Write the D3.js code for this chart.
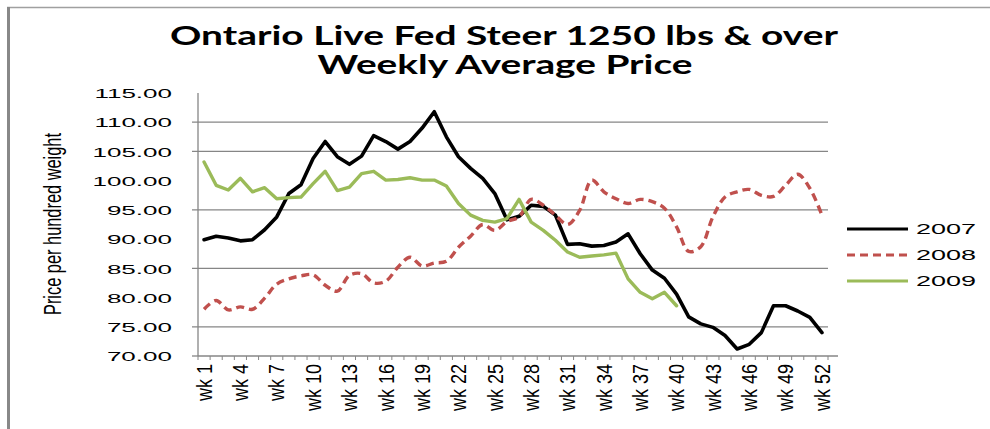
<!DOCTYPE html>
<html>
<head>
<meta charset="utf-8">
<script src="https://cdn.jsdelivr.net/npm/d3@7/dist/d3.min.js"></script>
<style>
  html, body { margin: 0; padding: 0; background: #fff; }
  svg { display: block; }
</style>
</head>
<body>
<svg id="chart" width="990" height="429"></svg>
<script>
// ---- data ----
const weeks = d3.range(1, 53).map(d => "wk " + d);
const tickLabels = ["wk 1","wk 4","wk 7","wk 10","wk 13","wk 16","wk 19","wk 22","wk 25","wk 28","wk 31","wk 34","wk 37","wk 40","wk 43","wk 46","wk 49","wk 52"];
const yTickValues = [70, 75, 80, 85, 90, 95, 100, 105, 110, 115];
const gridValues = [75, 85, 95, 105, 110];
const seriesNames = ["2007", "2008", "2009"];
const values2007 = [89.9, 90.5, 90.2, 89.7, 89.9, 91.6, 93.8, 97.8, 99.3, 103.8,
  106.7, 104.1, 102.8, 104.2, 107.7, 106.7, 105.4, 106.7, 109.0, 111.8,
  107.5, 104.1, 102.1, 100.4, 97.8, 93.3, 93.9, 95.8, 95.6, 94.1,
  89.1, 89.2, 88.8, 88.9, 89.5, 90.9, 87.5, 84.7, 83.3, 80.6,
  76.7, 75.5, 74.9, 73.5, 71.2, 72.0, 74.0, 78.6, 78.6, 77.7,
  76.6, 74.0];
const values2008 = [78.0, 79.5, 77.9, 78.4, 78.0, 79.9, 82.3, 83.2, 83.7, 83.9,
  82.1, 81.1, 83.8, 84.1, 82.5, 82.8, 85.2, 86.9, 85.4, 85.9,
  86.2, 88.6, 90.5, 92.5, 91.5, 93.0, 93.8, 96.8, 95.8, 94.1,
  92.5, 94.9, 100.1, 98.1, 96.9, 96.1, 96.8, 96.4, 95.3, 92.1,
  87.9, 88.7, 93.8, 97.2, 98.1, 98.5, 97.5, 97.3, 99.2, 101.1,
  98.7, 94.1];
const values2009 = [103.2, 99.2, 98.4, 100.4, 98.1, 98.8, 96.9, 97.1, 97.2, 99.5,
  101.6, 98.3, 98.9, 101.2, 101.6, 100.1, 100.2, 100.5, 100.1, 100.1,
  99.1, 96.1, 94.1, 93.2, 92.9, 93.5, 96.8, 92.9, 91.5, 89.8,
  87.8, 86.9, 87.1, 87.3, 87.6, 83.2, 80.9, 79.8, 80.9, 78.6];

const series = [
  { name: seriesNames[0], values: values2007, color: "#000000", dash: null, curve: d3.curveLinear, width: 3.6 },
  { name: seriesNames[1], values: values2008, color: "#C0504D", dash: "8,5", curve: d3.curveCatmullRom.alpha(0.5), width: 3.4 },
  { name: seriesNames[2], values: values2009, color: "#9BBB59", dash: null, curve: d3.curveLinear, width: 3.4 }
];

// ---- layout ----
const svg = d3.select("#chart");
const L = 198, R = 828, T = 93, B = 356;
const x = d3.scaleBand().domain(weeks).range([L, R]).padding(0);
const y = d3.scaleLinear().domain([70, 115]).range([B, T]);

function stretch(sel, factor) {
  sel.each(function () {
    const w = this.getComputedTextLength();
    d3.select(this).attr("textLength", w * factor).attr("lengthAdjust", "spacingAndGlyphs");
  });
}

// frame
svg.append("line").attr("x1", 7).attr("x2", 990).attr("y1", 7.5).attr("y2", 7.5)
  .attr("stroke", "#a0a0a0").attr("stroke-width", 1.5);
svg.append("line").attr("x1", 8.5).attr("x2", 8.5).attr("y1", 7).attr("y2", 429)
  .attr("stroke", "#888").attr("stroke-width", 3);

// title
const title = svg.append("g").attr("font-family", "Lato, 'Open Sans', sans-serif")
  .attr("font-weight", "bold").attr("font-size", 26).attr("fill", "#000").attr("text-anchor", "middle");
title.append("text").attr("x", 504).attr("y", 45).text("Ontario Live Fed Steer 1250 lbs & over")
  .attr("textLength", 668).attr("lengthAdjust", "spacingAndGlyphs");
title.append("text").attr("x", 505).attr("y", 74).text("Weekly Average Price")
  .attr("textLength", 375).attr("lengthAdjust", "spacingAndGlyphs");

// gridlines
svg.append("g").selectAll("line").data(gridValues).join("line")
  .attr("x1", L - 6).attr("x2", R).attr("y1", d => y(d)).attr("y2", d => y(d))
  .attr("stroke", "#868686").attr("stroke-width", 1.3);

// y axis
const yAxis = svg.append("g").attr("transform", `translate(${L},0)`)
  .call(d3.axisLeft(y).tickValues(yTickValues).tickSize(0).tickPadding(26).tickFormat(d3.format(".2f")));
yAxis.select(".domain").remove();
yAxis.selectAll("text").attr("font-family", "'Liberation Sans', Arial, sans-serif")
  .attr("font-size", 13).attr("fill", "#000").attr("dy", "0.36em");
stretch(yAxis.selectAll("text"), 2.0);
svg.append("line").attr("x1", L).attr("x2", L).attr("y1", T).attr("y2", B)
  .attr("stroke", "#868686").attr("stroke-width", 1.3);
svg.append("line").attr("x1", L - 6).attr("x2", L).attr("y1", y(70)).attr("y2", y(70))
  .attr("stroke", "#868686").attr("stroke-width", 1.3);

// x axis
const xAxis = svg.append("g").attr("transform", `translate(0,${B})`)
  .call(d3.axisBottom(x).tickValues(tickLabels).tickSize(0).tickPadding(0));
xAxis.select(".domain").remove();
xAxis.selectAll("text")
  .attr("font-family", "'Liberation Sans', Arial, sans-serif").attr("font-size", 18).attr("fill", "#000")
  .attr("text-anchor", "end").attr("dy", null).attr("y", null)
  .attr("transform", "translate(0,8) scale(1.25,1) rotate(-90)")
  .attr("dominant-baseline", "central");
svg.append("line").attr("x1", L).attr("x2", R + 10).attr("y1", B).attr("y2", B)
  .attr("stroke", "#868686").attr("stroke-width", 1.3);
const boundaries = weeks.map(w => x(w)).concat([R]);
svg.append("g").selectAll("line").data(boundaries).join("line")
  .attr("x1", d => d).attr("x2", d => d).attr("y1", B).attr("y2", B + 4)
  .attr("stroke", "#868686").attr("stroke-width", 1);

// y axis title
svg.append("text")
  .attr("transform", `translate(53,${(133 + 315) / 2}) scale(1.1,1) rotate(-90)`)
  .attr("text-anchor", "middle").attr("dominant-baseline", "central")
  .attr("font-family", "'Liberation Sans', Arial, sans-serif").attr("font-size", 22).attr("fill", "#000")
  .attr("textLength", 182).attr("lengthAdjust", "spacingAndGlyphs")
  .text("Price per hundred weight");

// lines
const plot = svg.append("g");
series.forEach(s => {
  const line = d3.line().x((d, i) => x(weeks[i]) + x.bandwidth() / 2).y(d => y(d)).curve(s.curve);
  plot.append("path").datum(s.values).attr("d", line)
    .attr("fill", "none").attr("stroke", s.color).attr("stroke-width", s.width)
    .attr("stroke-linejoin", "round").attr("stroke-linecap", s.dash ? "butt" : "round")
    .attr("stroke-dasharray", s.dash);
});

// legend
const legend = svg.append("g");
const ly = [229, 255, 281];
series.forEach((s, i) => {
  legend.append("line").attr("x1", 847).attr("x2", 908).attr("y1", ly[i]).attr("y2", ly[i])
    .attr("stroke", s.color).attr("stroke-width", 3).attr("stroke-dasharray", s.dash);
  legend.append("text").attr("x", 916).attr("y", ly[i]).attr("dy", "0.36em")
    .attr("font-family", "'Liberation Sans', Arial, sans-serif").attr("font-size", 15).attr("fill", "#000")
    .text(s.name);
});
stretch(legend.selectAll("text"), 1.8);
</script>
</body>
</html>
